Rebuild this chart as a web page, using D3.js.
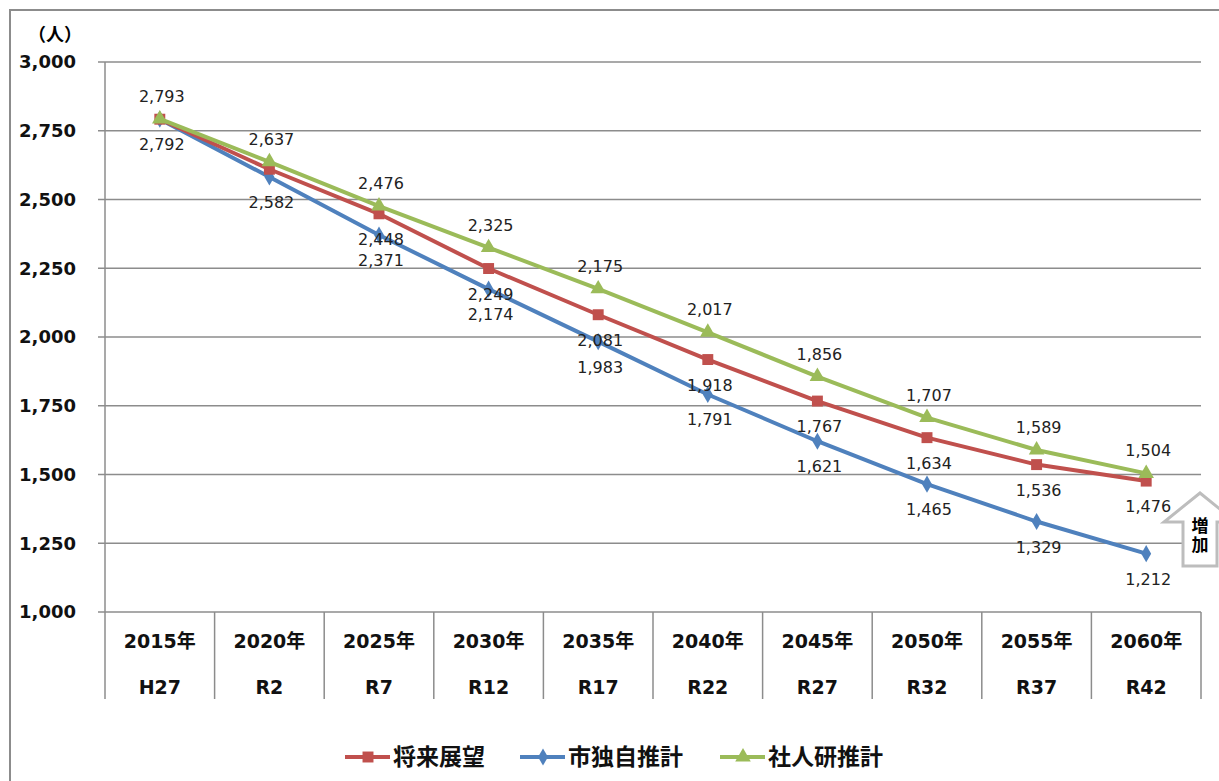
<!DOCTYPE html>
<html lang="ja">
<head>
    <meta charset="UTF-8">
    <title>人口推計</title>
    <script src="https://d3js.org/d3.v7.min.js"></script>
    <style>
        body { margin: 0; background: #fff; }
        svg { font-family: "DejaVu Sans", "Noto Sans CJK JP", sans-serif; display: block; }
        .tick-label { font-size: 18px; font-weight: bold; fill: #111; }
        .cat-label { font-size: 19px; font-weight: bold; fill: #111; }
        .value-label { font-size: 16px; fill: #222; }
        .legend-text { font-size: 23px; font-weight: bold; fill: #111; }
    </style>
</head>
<body>
    <div id="chart"></div>
    <script>
        const years = ["2015年", "2020年", "2025年", "2030年", "2035年", "2040年", "2045年", "2050年", "2055年", "2060年"];
        const eras = ["H27", "R2", "R7", "R12", "R17", "R22", "R27", "R32", "R37", "R42"];
        const shoraiTenbo = [2792, 2610, 2448, 2249, 2081, 1918, 1767, 1634, 1536, 1476];
        const shiDokuji = [2792, 2582, 2371, 2174, 1983, 1791, 1621, 1465, 1329, 1212];
        const shajinken = [2793, 2637, 2476, 2325, 2175, 2017, 1856, 1707, 1589, 1504];
        const yTicks = [1000, 1250, 1500, 1750, 2000, 2250, 2500, 2750, 3000];

        const series = [
            {name: "将来展望", values: shoraiTenbo, color: "#C0504D", marker: "square", labelFrom: 2, dy: 31},
            {name: "市独自推計", values: shiDokuji, color: "#4F81BD", marker: "diamond", labelFrom: 0, dy: 31},
            {name: "社人研推計", values: shajinken, color: "#9BBB59", marker: "triangle", labelFrom: 0, dy: -17}
        ];

        const width = 1219, height = 781;
        const plotLeft = 105, plotRight = 1201, plotTop = 62, plotBottom = 612;

        const svg = d3.select("#chart").append("svg")
            .attr("width", width)
            .attr("height", height);

        // outer frame (runs off the right and bottom edge)
        svg.append("rect")
            .attr("x", 10).attr("y", 10)
            .attr("width", width + 20).attr("height", height + 20)
            .attr("fill", "#fff")
            .attr("stroke", "#8c8c8c")
            .attr("stroke-width", 2);

        const x = d3.scaleBand().domain(years).range([plotLeft, plotRight]);
        const y = d3.scaleLinear().domain([1000, 3000]).range([plotBottom, plotTop]);

        // grid lines + ticks
        svg.append("g").selectAll("line")
            .data(yTicks)
            .join("line")
            .attr("x1", plotLeft - 7).attr("x2", plotRight)
            .attr("y1", d => y(d)).attr("y2", d => y(d))
            .attr("stroke", "#8c8c8c")
            .attr("stroke-width", 1.5);

        const yAxis = svg.append("g")
            .attr("transform", `translate(${plotLeft},0)`)
            .call(d3.axisLeft(y).tickValues(yTicks).tickSize(0).tickPadding(29).tickFormat(d3.format(",")));
        yAxis.attr("font-family", null).attr("font-size", null);
        yAxis.select(".domain").remove();
        yAxis.selectAll("text").attr("class", "tick-label");

        // vertical axis line
        svg.append("line")
            .attr("x1", plotLeft).attr("x2", plotLeft)
            .attr("y1", plotTop).attr("y2", 699)
            .attr("stroke", "#8c8c8c").attr("stroke-width", 1.5);

        // category table dividers
        const bounds = years.map(d => x(d)).concat([plotRight]);
        svg.append("g").selectAll("line")
            .data(bounds.slice(1))
            .join("line")
            .attr("x1", d => d).attr("x2", d => d)
            .attr("y1", plotBottom).attr("y2", 699)
            .attr("stroke", "#8c8c8c").attr("stroke-width", 1.5);

        svg.append("g").selectAll("text")
            .data(years)
            .join("text")
            .attr("class", "cat-label")
            .attr("x", d => x(d) + x.bandwidth() / 2)
            .attr("y", 641)
            .attr("dy", "0.35em")
            .attr("text-anchor", "middle")
            .text(d => d);

        svg.append("g").selectAll("text")
            .data(eras)
            .join("text")
            .attr("class", "cat-label")
            .attr("x", (d, i) => x(years[i]) + x.bandwidth() / 2)
            .attr("y", 687)
            .attr("dy", "0.35em")
            .attr("text-anchor", "middle")
            .text(d => d);

        svg.append("text")
            .attr("x", 55).attr("y", 35)
            .attr("dy", "0.35em")
            .attr("text-anchor", "middle")
            .style("font-size", "18px")
            .style("font-weight", "bold")
            .text("（人）");

        const symbols = {
            square: d3.symbol().type(d3.symbolSquare).size(120),
            diamond: d3.symbol().type(d3.symbolDiamond).size(85),
            triangle: d3.symbol().type(d3.symbolTriangle).size(105)
        };

        const line = d3.line()
            .x((d, i) => x(years[i]) + x.bandwidth() / 2)
            .y(d => y(d));

        // draw order: blue, red, green (green on top)
        [series[1], series[0], series[2]].forEach(s => {
            const g = svg.append("g");
            g.append("path")
                .attr("d", line(s.values))
                .attr("fill", "none")
                .attr("stroke", s.color)
                .attr("stroke-width", 4)
                .attr("stroke-linejoin", "round");
            g.selectAll("path.mk")
                .data(s.values)
                .join("path")
                .attr("class", "mk")
                .attr("d", symbols[s.marker])
                .attr("transform", (d, i) => `translate(${x(years[i]) + x.bandwidth() / 2},${y(d)})`)
                .attr("fill", s.color);
        });

        series.forEach(s => {
            svg.append("g").selectAll("text")
                .data(s.values.map((v, i) => ({v, i})).filter(d => d.i >= s.labelFrom))
                .join("text")
                .attr("class", "value-label")
                .attr("x", d => x(years[d.i]) + x.bandwidth() / 2 + 2)
                .attr("y", d => y(d.v) + s.dy)
                .attr("text-anchor", "middle")
                .text(d => d3.format(",")(d.v));
        });

        // "増加" arrow
        svg.append("path")
            .attr("d", "M1200,493 L1236,522 L1217,522 L1217,566 L1183,566 L1183,522 L1164,522 Z")
            .attr("fill", "#fff")
            .attr("stroke", "#bdbdbd")
            .attr("stroke-width", 3);
        ["増", "加"].forEach((c, i) => {
            svg.append("text")
                .attr("x", 1200).attr("y", 526 + i * 19)
                .attr("dy", "0.35em")
                .attr("text-anchor", "middle")
                .style("font-size", "17px")
                .style("font-weight", "bold")
                .text(c);
        });

        // legend
        const legendX = [345, 520, 720];
        series.forEach((s, i) => {
            const g = svg.append("g").attr("transform", `translate(${legendX[i]},757)`);
            g.append("line")
                .attr("x1", 0).attr("x2", 45)
                .attr("stroke", s.color).attr("stroke-width", 4);
            g.append("path")
                .attr("d", symbols[s.marker])
                .attr("transform", "translate(23,0)")
                .attr("fill", s.color);
            g.append("text")
                .attr("class", "legend-text")
                .attr("x", 48)
                .attr("dy", "0.35em")
                .text(s.name);
        });
    </script>
</body>
</html>
